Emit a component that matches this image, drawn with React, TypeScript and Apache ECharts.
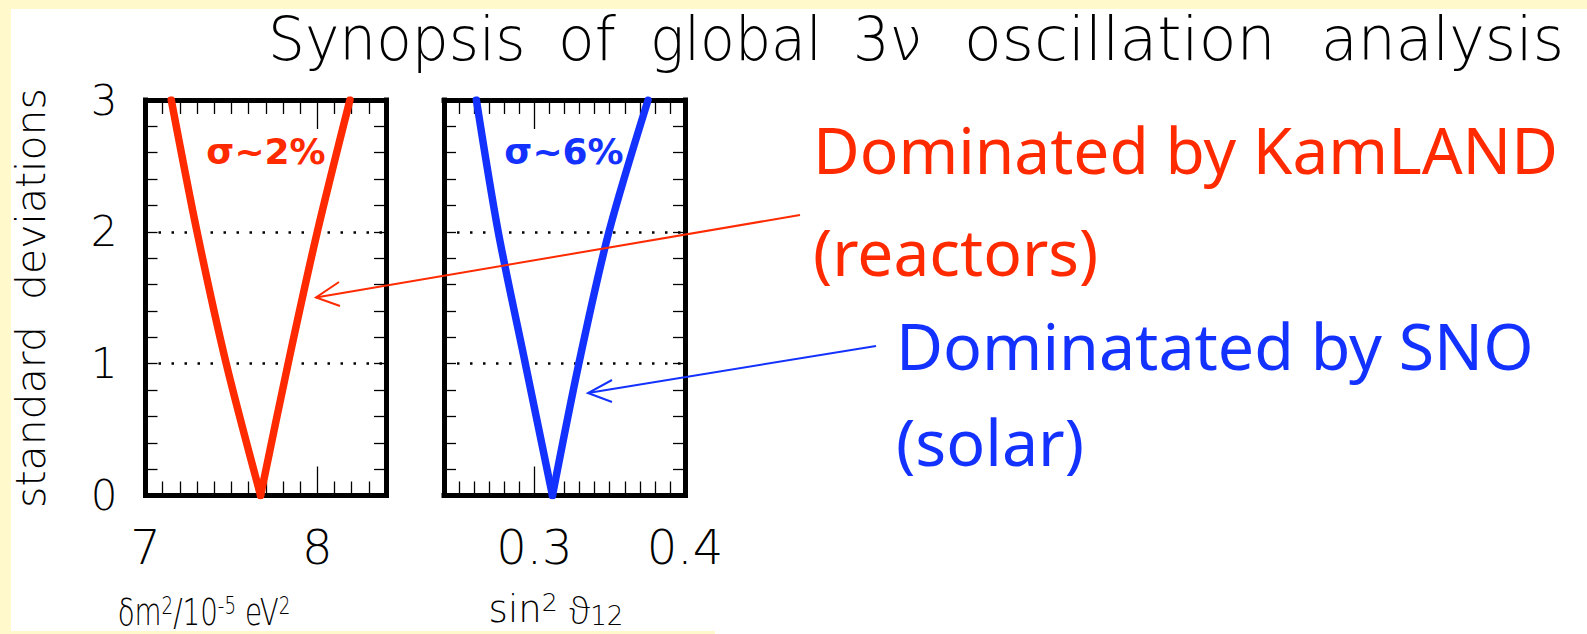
import React, { useEffect, useRef } from "react";
import * as echarts from "echarts";

// ---- data ----
const sigmaRange = [0, 3];
const dm2Range = [7, 8.4];
const th12Range = [0.24, 0.4];
const dm2X = [7.15, 7.3, 7.47, 7.67, 7.83, 8.0, 8.19];
const dm2Y = [3, 2, 1, 0, 1, 2, 3];
const th12X = [0.2615, 0.276, 0.294, 0.312, 0.3295, 0.3495, 0.3755];
const th12Y = [3, 2, 1, 0, 1, 2, 3];
const titleWords = ["Synopsis", "of", "global", "3\u03bd", "oscillation", "analysis"];
const redNotes = ["Dominated by KamLAND", "(reactors)"];
const blueNotes = ["Dominatated by SNO", "(solar)"];

const RED = "#FF2A00";
const BLUE = "#1432FF";
const THIN = "'DejaVu Sans', sans-serif";
const NOTE_FONT = "'Comic Sans MS', 'Noto Sans', sans-serif";

const titleX = [268, 558, 650, 853, 964, 1321];
const titleScale = [0.97, 1, 0.95, 0.96, 1.03, 1];

const axisLineStyle = { color: "#000", width: 5, cap: "square" };
const tickStyle = { color: "#000", width: 1.3 };

function xAxisCfg(gridIndex: number, range: number[], position: "top" | "bottom", extra: any) {
  const { hideMin, hideMax, ...rest } = extra;
  return {
    type: "value",
    gridIndex,
    position,
    min: range[0],
    max: range[1],
    ...rest,
    axisLine: { show: true, onZero: false, lineStyle: axisLineStyle },
    axisTick: { show: true, inside: true, length: 29, lineStyle: tickStyle },
    minorTick: { show: true, splitNumber: 10, length: 14, lineStyle: tickStyle },
    splitLine: { show: false },
    axisLabel:
      position === "bottom"
        ? {
            show: true,
            margin: 27,
            fontSize: 48,
            fontFamily: THIN,
            fontWeight: 200,
            color: "#000",
            showMinLabel: hideMin ? false : true,
            showMaxLabel: hideMax ? false : true,
          }
        : { show: false },
  };
}

function yAxisCfg(gridIndex: number, position: "left" | "right", labels: boolean, split: boolean) {
  return {
    type: "value",
    gridIndex,
    position,
    min: sigmaRange[0],
    max: sigmaRange[1],
    interval: 1,
    axisLine: { show: true, onZero: false, lineStyle: axisLineStyle },
    axisTick: { show: true, inside: true, length: 12, lineStyle: tickStyle },
    minorTick: { show: true, splitNumber: 5, length: 12, lineStyle: tickStyle },
    splitLine: split
      ? { show: true, lineStyle: { color: "#000", width: 2.5, type: [2.5, 10.5] } }
      : { show: false },
    axisLabel: labels
      ? { show: true, margin: 28, fontSize: 42, fontFamily: THIN, fontWeight: 200, color: "#000" }
      : { show: false },
  };
}

function arms(xs: number[], ys: number[]) {
  let k = 0;
  ys.forEach((y, i) => {
    if (y < ys[k]) k = i;
  });
  const pts = xs.map((x, i) => [x, ys[i]]);
  return [pts.slice(0, k + 1), pts.slice(k)];
}

function armSeries(data: number[][], axisIndex: number, color: string) {
  return {
    type: "line",
    xAxisIndex: axisIndex,
    yAxisIndex: axisIndex,
    data,
    symbol: "none",
    showSymbol: false,
    smooth: 0.3,
    clip: true,
    lineStyle: { color, width: 7.5, cap: "round" },
    z: 3,
  };
}

export default function App() {
  const ref = useRef<HTMLDivElement>(null);
  useEffect(() => {
    if (!ref.current) return;
    const chart = echarts.init(ref.current, undefined, { renderer: "svg" });
    const graphics: any[] = [
      { type: "rect", z: -10, shape: { x: 11, y: 9, width: 1576, height: 625 }, style: { fill: "#fff" } },
      { type: "rect", z: -9, shape: { x: 0, y: 631, width: 715, height: 3 }, style: { fill: "#FFF9CC" } },
    ];
    titleWords.forEach((w, i) => {
      graphics.push({
        type: "text",
        z: 100,
        x: titleX[i],
        y: 39,
        scaleX: titleScale[i],
        style: { text: w, fontSize: 60, fontFamily: THIN, fontWeight: 200, fill: "#000", align: "left", verticalAlign: "middle" },
      });
    });
    const sup = { fontSize: 25, fontFamily: THIN, fontWeight: 200, fill: "#000", verticalAlign: "top" };
    const sub = { fontSize: 26, fontFamily: THIN, fontWeight: 200, fill: "#000", verticalAlign: "bottom", padding: [13, 0, 0, 0] };
    const theta = { fontSize: 37, fontFamily: "'Noto Sans', 'DejaVu Sans', sans-serif", fontWeight: 200, fill: "#000" };
    graphics.push(
      {
        type: "text",
        z: 100,
        x: 30.5,
        y: 298,
        rotation: Math.PI / 2,
        style: { text: "standard  deviations", fontSize: 41, fontFamily: THIN, fontWeight: 200, fill: "#000", align: "center", verticalAlign: "middle" },
      },
      {
        type: "text",
        z: 100,
        x: 204,
        y: 593,
        scaleX: 0.73,
        style: {
          text: "\u03b4m{p|2}/10{p|-5} eV{p|2}",
          rich: { p: sup },
          fontSize: 38,
          fontFamily: THIN,
          fontWeight: 200,
          fill: "#000",
          align: "center",
          verticalAlign: "top",
        },
      },
      {
        type: "text",
        z: 100,
        x: 556,
        y: 590,
        style: {
          text: "sin{p|2} {t|\u03d1}{b|12}",
          rich: { p: sup, b: sub, t: theta },
          fontSize: 37,
          fontFamily: THIN,
          fontWeight: 200,
          fill: "#000",
          align: "center",
          verticalAlign: "top",
        },
      },
      {
        type: "text",
        z: 100,
        x: 266,
        y: 151,
        style: { text: "\u03c3~2%", fontSize: 36, fontFamily: "'DejaVu Sans', sans-serif", fontWeight: "bold", fill: RED, align: "center", verticalAlign: "middle" },
      },
      {
        type: "text",
        z: 100,
        x: 564,
        y: 151,
        style: { text: "\u03c3~6%", fontSize: 36, fontFamily: "'DejaVu Sans', sans-serif", fontWeight: "bold", fill: BLUE, align: "center", verticalAlign: "middle" },
      },
      { type: "text", z: 100, x: 813, y: 149, style: { text: redNotes[0], fontSize: 64, fontFamily: NOTE_FONT, fill: RED, align: "left", verticalAlign: "middle" } },
      { type: "text", z: 100, x: 813, y: 251, style: { text: redNotes[1], fontSize: 64, fontFamily: NOTE_FONT, fill: RED, align: "left", verticalAlign: "middle" } },
      { type: "text", z: 100, x: 896, y: 345, style: { text: blueNotes[0], fontSize: 64.5, fontFamily: NOTE_FONT, fill: BLUE, align: "left", verticalAlign: "middle" } },
      { type: "text", z: 100, x: 896, y: 441, style: { text: blueNotes[1], fontSize: 64.5, fontFamily: NOTE_FONT, fill: BLUE, align: "left", verticalAlign: "middle" } },
      { type: "line", z: 100, shape: { x1: 800, y1: 215, x2: 316, y2: 297.5 }, style: { stroke: RED, lineWidth: 2 } },
      { type: "polyline", z: 100, shape: { points: [[339, 282], [316, 297.5], [340, 306]] }, style: { stroke: RED, lineWidth: 2, fill: null } },
      { type: "line", z: 100, shape: { x1: 876, y1: 346, x2: 588, y2: 393 }, style: { stroke: BLUE, lineWidth: 2 } },
      { type: "polyline", z: 100, shape: { points: [[612, 380], [588, 393], [612, 402]] }, style: { stroke: BLUE, lineWidth: 2, fill: null } }
    );

    const [dmL, dmR] = arms(dm2X, dm2Y);
    const [thL, thR] = arms(th12X, th12Y);

    const option: any = {
      animation: false,
      backgroundColor: "#FFF9CC",
      grid: [
        { left: 145.5, top: 100, width: 240.5, height: 395.5, containLabel: false },
        { left: 444, top: 100, width: 241, height: 395.5, containLabel: false },
      ],
      xAxis: [
        xAxisCfg(0, dm2Range, "bottom", { interval: 1, hideMax: true }),
        xAxisCfg(0, dm2Range, "top", { interval: 1 }),
        xAxisCfg(1, th12Range, "bottom", { splitNumber: 2, minInterval: 0.1, maxInterval: 0.1, hideMin: true }),
        xAxisCfg(1, th12Range, "top", { splitNumber: 2, minInterval: 0.1, maxInterval: 0.1 }),
      ],
      yAxis: [
        yAxisCfg(0, "left", true, true),
        yAxisCfg(0, "right", false, false),
        yAxisCfg(1, "left", false, true),
        yAxisCfg(1, "right", false, false),
      ],
      series: [
        armSeries(dmL, 0, RED),
        armSeries(dmR, 0, RED),
        armSeries(thL, 2, BLUE),
        armSeries(thR, 2, BLUE),
      ],
      graphic: graphics,
    };
    chart.setOption(option);
    return () => chart.dispose();
  }, []);
  return <div ref={ref} style={{ position: "fixed", left: 0, top: 0, width: 1587, height: 634 }} />;
}
